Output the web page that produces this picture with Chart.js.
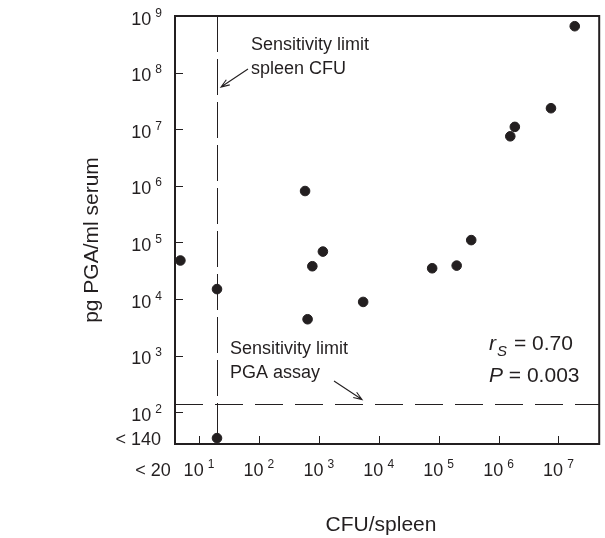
<!DOCTYPE html>
<html>
<head>
<meta charset="utf-8">
<script src="https://cdn.jsdelivr.net/npm/chart.js@4"></script>
<style>
  html, body { margin: 0; padding: 0; background: #fff; }
  #wrap { width: 605px; height: 538px; }
</style>
</head>
<body>
<div id="wrap"><canvas id="myChart"></canvas></div>
<script>
// spleen CFU vs serum PGA, one point per animal
// values below the detection limits are put at the "< 20" / "< 140" rows
let cfuPerSpleen = [4.9, 20, 20, 590, 1170, 780, 650, 5500, 78000, 200000, 350000, 1570000, 1870000, 7500000, 18700000];
let pgaSerum = [48000, 15000, 35, 810000, 69000, 38000, 4400, 8900, 35000, 39000, 110000, 7500000, 11000000, 23500000, 660000000];

// tick labels (powers of ten) and the "below limit" labels
let xTickPowers = [1, 2, 3, 4, 5, 6, 7];
let yTickPowers = [2, 3, 4, 5, 6, 7, 8, 9];
let xBelowLabel = '< 20';
let yBelowLabel = '< 140';

// sensitivity limits
let cfuLimit = 20;
let pgaLimit = 140;

let ink = '#231f20';
let font = '"Liberation Sans", Arial, sans-serif';

let points = [];
for (let i = 0; i < cfuPerSpleen.length; i++) {
    points.push({x: cfuPerSpleen[i], y: pgaSerum[i]});
}

/**
 * Draws "10" with a raised exponent
 * align - 'center' (x is the middle) or 'right' (x is the right edge)
 */
function powerLabel(ctx, exp, x, y, align) {
    ctx.font = '18px ' + font;
    let wBase = ctx.measureText('10').width;
    ctx.font = '12px ' + font;
    let wExp = ctx.measureText(String(exp)).width;
    let gap = 4;
    let total = wBase + gap + wExp;
    let left = align == 'center' ? x - total / 2 : x - total;
    ctx.textAlign = 'left';
    ctx.textBaseline = 'alphabetic';
    ctx.font = '18px ' + font;
    ctx.fillText('10', left, y);
    ctx.font = '12px ' + font;
    ctx.fillText(String(exp), left + wBase + gap, y - 8);
}

function arrow(ctx, x1, y1, x2, y2) {
    let a = Math.atan2(y2 - y1, x2 - x1);
    let len = 9, spread = 0.35;
    ctx.beginPath();
    ctx.moveTo(x1, y1);
    ctx.lineTo(x2, y2);
    ctx.moveTo(x2 - len * Math.cos(a - spread), y2 - len * Math.sin(a - spread));
    ctx.lineTo(x2, y2);
    ctx.lineTo(x2 - len * Math.cos(a + spread), y2 - len * Math.sin(a + spread));
    ctx.stroke();
}

let decorations = {
    id: 'decorations',
    beforeDatasetsDraw(chart) {
        let ctx = chart.ctx, area = chart.chartArea;
        let xs = chart.scales.x, ys = chart.scales.y;
        ctx.save();
        ctx.strokeStyle = ink;
        ctx.lineWidth = 1;
        // vertical limit line
        let lx = Math.round(xs.getPixelForValue(cfuLimit)) + 0.5;
        ctx.setLineDash([36, 7]);
        ctx.beginPath();
        ctx.moveTo(lx, area.top);
        ctx.lineTo(lx, area.bottom);
        ctx.stroke();
        // horizontal limit line
        let ly = Math.round(ys.getPixelForValue(pgaLimit)) + 0.5;
        ctx.setLineDash([28, 12]);
        ctx.beginPath();
        ctx.moveTo(area.left, ly);
        ctx.lineTo(area.right, ly);
        ctx.stroke();
        ctx.restore();
    },
    afterDraw(chart) {
        let ctx = chart.ctx, area = chart.chartArea;
        let xs = chart.scales.x, ys = chart.scales.y;
        ctx.save();
        ctx.fillStyle = ink;
        ctx.strokeStyle = ink;

        // ticks
        ctx.lineWidth = 1;
        ctx.beginPath();
        for (let p of xTickPowers) {
            let px = Math.round(xs.getPixelForValue(Math.pow(10, p))) + 0.5;
            ctx.moveTo(px, area.bottom);
            ctx.lineTo(px, area.bottom - 8);
        }
        for (let p of yTickPowers) {
            let py = Math.round(ys.getPixelForValue(Math.pow(10, p))) + 0.5;
            ctx.moveTo(area.left, py);
            ctx.lineTo(area.left + 8, py);
        }
        ctx.stroke();

        // frame
        ctx.lineWidth = 2;
        ctx.strokeRect(area.left, area.top, area.right - area.left, area.bottom - area.top);

        // tick labels
        for (let p of xTickPowers) {
            powerLabel(ctx, p, xs.getPixelForValue(Math.pow(10, p)), 476, 'center');
        }
        for (let p of yTickPowers) {
            powerLabel(ctx, p, 162, ys.getPixelForValue(Math.pow(10, p)) + 8.5, 'right');
        }
        ctx.font = '18px ' + font;
        ctx.textAlign = 'center';
        ctx.fillText(xBelowLabel, 153, 476);
        ctx.textAlign = 'right';
        ctx.fillText(yBelowLabel, 161, 445);

        // axis titles
        ctx.font = '21px ' + font;
        ctx.textAlign = 'center';
        ctx.fillText('CFU/spleen', 381, 531);
        ctx.save();
        ctx.translate(98, 240);
        ctx.rotate(-Math.PI / 2);
        ctx.fillText('pg PGA/ml serum', 0, 0);
        ctx.restore();

        // annotations
        ctx.font = '18px ' + font;
        ctx.textAlign = 'left';
        ctx.fillText('Sensitivity limit', 251, 50);
        ctx.fillText('spleen CFU', 251, 74);
        ctx.fillText('Sensitivity limit', 230, 354);
        ctx.fillText('PGA assay', 230, 378);
        ctx.lineWidth = 1.1;
        arrow(ctx, 248, 69, 221, 87);
        arrow(ctx, 334, 381, 362, 399.5);

        // statistics
        ctx.font = 'italic 21px ' + font;
        ctx.fillText('r', 489, 350);
        ctx.font = 'italic 15px ' + font;
        ctx.fillText('S', 497, 356);
        ctx.font = '21px ' + font;
        ctx.fillText('= 0.70', 514, 350);
        ctx.font = 'italic 21px ' + font;
        ctx.fillText('P', 489, 382);
        let wP = ctx.measureText('P').width;
        ctx.font = '21px ' + font;
        ctx.fillText(' = 0.003', 489 + wP, 382);
        ctx.restore();
    }
};

let ctx = document.getElementById('myChart').getContext('2d');
window.myChart = new Chart(ctx, {
    type: 'scatter',
    data: {
        datasets: [{
            data: points,
            backgroundColor: ink,
            borderColor: ink,
            pointRadius: 4.8,
            pointHoverRadius: 4.8,
            clip: false
        }]
    },
    options: {
        responsive: true,
        maintainAspectRatio: false,
        animation: false,
        layout: {padding: {left: 175, right: 4, top: 16, bottom: 94}},
        plugins: {legend: {display: false}, tooltip: {enabled: false}},
        scales: {
            x: {type: 'logarithmic', display: false, min: Math.pow(10, 0.6), max: Math.pow(10, 7.68)},
            y: {type: 'logarithmic', display: false, min: Math.pow(10, 1.44), max: Math.pow(10, 9)}
        }
    },
    plugins: [decorations]
});
</script>
</body>
</html>
